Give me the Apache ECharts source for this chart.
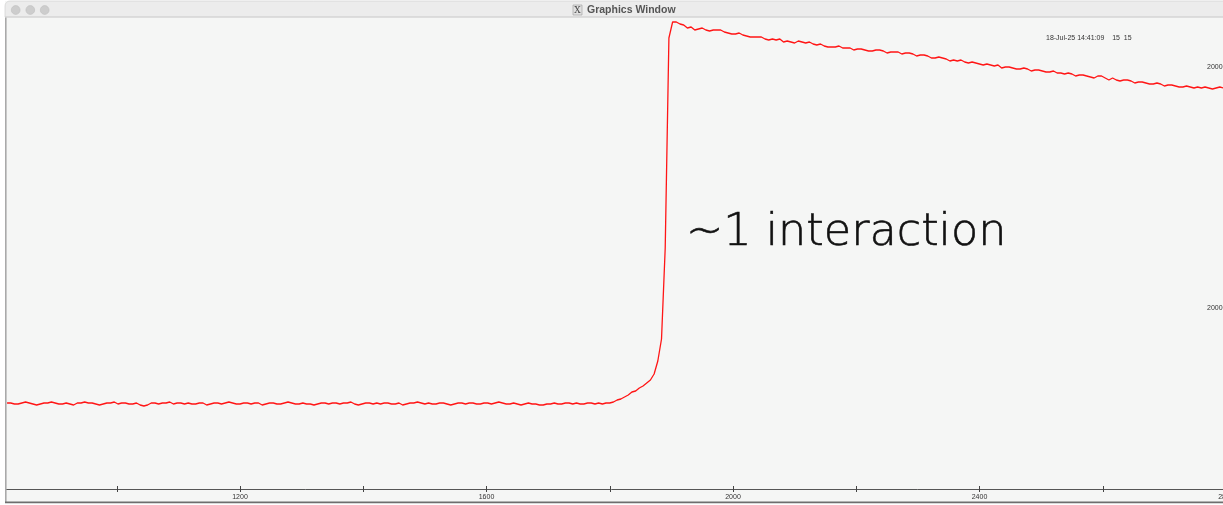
<!DOCTYPE html>
<html>
<head>
<meta charset="utf-8">
<script src="https://cdn.jsdelivr.net/npm/echarts@6/dist/echarts.min.js"></script>
<style>
  html, body { margin: 0; padding: 0; background: #ffffff; }
  #chart { width: 1223px; height: 505px; }
</style>
</head>
<body>
<div id="chart"></div>
<script>
// Trace sampling: first sample time and spacing between samples
const sampleStart = 822;
const sampleStep = 6;

// Pre-pulse baseline
const baseline = [
  86, 86, 85, 85, 86, 87, 86, 85, 84, 85,
  86, 86, 87, 86, 85, 85, 86, 85, 84, 86,
  86, 87, 86, 86, 85, 84, 85, 86, 86, 87,
  85, 86, 86, 85, 85, 86, 84, 83, 84, 86,
  86, 85, 86, 86, 87, 85, 86, 86, 85, 86,
  85, 85, 86, 86, 84, 85, 86, 86, 85, 86,
  87, 86, 85, 85, 86, 86, 85, 86, 86, 84,
  85, 86, 86, 85, 85, 86, 87, 86, 85, 85,
  86, 85, 85, 84, 85, 86, 86, 85, 86, 86,
  85, 86, 86, 87, 85, 84, 85, 86, 86, 85,
  86, 85, 86, 86, 85, 85, 86, 84, 85, 86,
  86, 87, 86, 85, 86, 85, 85, 86, 86, 85,
  84, 85, 86, 86, 85, 86, 86, 85, 85, 86,
  86, 85, 86, 87, 86, 85, 85, 86, 85, 84,
  85, 86, 85, 85, 84, 84, 85, 85, 86, 85,
  85, 86, 86, 85, 86, 85, 85, 86, 86, 85,
  86, 85, 86, 86
];

// Leading edge of the pulse
const rise = [87, 89, 90, 92, 94, 97, 98, 101, 103, 106, 109, 115, 128, 150, 241, 451, 467];

// Slow tail after the peak
const tail = [
  467, 465, 464, 461, 462, 459, 460, 461, 459, 458,
  459, 459, 459, 457, 456, 455, 455, 456, 454, 453,
  452, 452, 452, 452, 450, 449, 450, 449, 450, 447,
  448, 447, 446, 448, 447, 446, 447, 445, 444, 445,
  443, 442, 442, 442, 443, 441, 441, 441, 439, 440,
  440, 439, 438, 438, 439, 439, 438, 436, 437, 437,
  437, 435, 436, 436, 435, 433, 434, 434, 433, 431,
  431, 432, 431, 430, 428, 429, 428, 429, 427, 426,
  427, 426, 425, 424, 425, 424, 423, 424, 421, 422,
  422, 421, 420, 420, 421, 420, 418, 419, 419, 418,
  417, 417, 418, 416, 416, 415, 416, 415, 413, 414,
  414, 413, 412, 411, 413, 413, 411, 409, 411, 409,
  408, 409, 409, 408, 406, 407, 407, 406, 405, 405,
  406, 405, 403, 404, 404, 403, 402, 402, 403, 402,
  401, 402, 401, 402, 401, 400, 401, 402, 401
];

const xTickLabels = [1200, 1600, 2000, 2400, 2800];
const timestampText = '18-Jul-25 14:41:09    15  15';
const sideLabels = ['2000', '2000'];
const annotation = '~1 interaction';

const trace = baseline.concat(rise, tail).map((v, i) => [sampleStart + i * sampleStep, v]);

const chart = echarts.init(document.getElementById('chart'), null, { renderer: 'canvas' });

const labelFont = { fontFamily: 'Liberation Sans, Arial, sans-serif', fontSize: 7, color: '#333' };

chart.setOption({
  backgroundColor: '#f5f6f5',
  animation: false,
  grid: { left: -6.5, right: -3, top: 17, bottom: 16, show: false, outerBoundsMode: 'none' },
  xAxis: [
    {
      type: 'value', min: 800, max: 2800, interval: 200, position: 'bottom',
      axisLine: { show: true, lineStyle: { color: '#555', width: 1 } },
      axisTick: { show: true, length: 3, lineStyle: { color: '#444', width: 1 } },
      splitLine: { show: false },
      axisLabel: {
        show: true, margin: 5, ...labelFont, showMinLabel: false,
        formatter: v => (xTickLabels.includes(v) ? String(v) : '')
      }
    },
    {
      type: 'value', min: 800, max: 2800, interval: 200, position: 'bottom',
      axisLine: { show: false },
      axisTick: { show: true, inside: true, length: 3, lineStyle: { color: '#444', width: 1 } },
      splitLine: { show: false },
      axisLabel: { show: false }
    }
  ],
  yAxis: { type: 'value', min: 0, max: 472, show: false },
  series: [{
    type: 'line', data: trace, xAxisIndex: 0, showSymbol: false, smooth: false,
    lineStyle: { color: '#ff1515', width: 1.3 }, z: 3
  }],
  graphic: [
    // outer margin and window frame
    { type: 'rect', shape: { x: 0, y: 0, width: 5, height: 505 }, style: { fill: '#ffffff' }, z: 100 },
    { type: 'rect', shape: { x: 0, y: 503, width: 1223, height: 2 }, style: { fill: '#ffffff' }, z: 100 },
    { type: 'rect', shape: { x: 5, y: 17, width: 1.6, height: 486 }, style: { fill: '#a9a9a9' }, z: 101 },
    { type: 'rect', shape: { x: 5, y: 501.5, width: 1218, height: 1.8 }, style: { fill: '#6e6e6e' }, z: 101 },
    // title bar
    { type: 'rect', shape: { x: 0, y: 0, width: 1223, height: 1 }, style: { fill: '#ffffff' }, z: 100 },
    { type: 'rect', shape: { x: 5, y: 1, width: 1220, height: 16, r: [5, 0, 0, 0] }, style: { fill: '#ececec', stroke: '#d6d6d6', lineWidth: 0.8 }, z: 101 },
    { type: 'rect', shape: { x: 5, y: 16.5, width: 1218, height: 1 }, style: { fill: '#d2d2d2' }, z: 102 },
    { type: 'circle', shape: { cx: 15.7, cy: 10, r: 4.4 }, style: { fill: '#cdcdcd', stroke: '#bdbdbd', lineWidth: 0.6 }, z: 102 },
    { type: 'circle', shape: { cx: 30.3, cy: 10, r: 4.4 }, style: { fill: '#cdcdcd', stroke: '#bdbdbd', lineWidth: 0.6 }, z: 102 },
    { type: 'circle', shape: { cx: 44.7, cy: 10, r: 4.4 }, style: { fill: '#cdcdcd', stroke: '#bdbdbd', lineWidth: 0.6 }, z: 102 },
    { type: 'rect', shape: { x: 573, y: 5, width: 9, height: 10 }, style: { fill: '#e0e0e0', stroke: '#9a9a9a', lineWidth: 0.6 }, z: 102 },
    { type: 'text', x: 577.5, y: 10.3, style: { text: 'X', fontFamily: 'DejaVu Serif, serif', fontSize: 9, fill: '#444', align: 'center', verticalAlign: 'middle' }, z: 103 },
    { type: 'text', x: 587, y: 10.5, style: { text: 'Graphics Window', fontFamily: 'Liberation Sans, Arial, sans-serif', fontWeight: 'bold', fontSize: 10.5, fill: '#555', align: 'left', verticalAlign: 'middle' }, z: 103 },
    // stamp and side labels
    { type: 'text', x: 1046, y: 38.5, style: { text: timestampText, fontFamily: labelFont.fontFamily, fontSize: 7, fill: '#333', align: 'left', verticalAlign: 'middle' }, z: 50 },
    { type: 'text', x: 1207, y: 67, style: { text: sideLabels[0], fontFamily: labelFont.fontFamily, fontSize: 7, fill: '#333', align: 'left', verticalAlign: 'middle' }, z: 50 },
    { type: 'text', x: 1207, y: 308.5, style: { text: sideLabels[1], fontFamily: labelFont.fontFamily, fontSize: 7, fill: '#333', align: 'left', verticalAlign: 'middle' }, z: 50 },
    // annotation
    { type: 'text', x: 686, y: 233, style: { text: annotation, fontFamily: 'DejaVu Sans, sans-serif', fontWeight: 200, fontSize: 44.5, fill: '#111', stroke: '#111', lineWidth: 0.6, align: 'left', verticalAlign: 'middle' }, z: 50 }
  ]
});
</script>
</body>
</html>
